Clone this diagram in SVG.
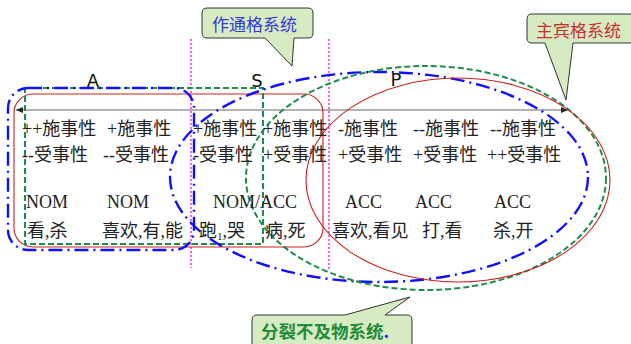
<svg xmlns="http://www.w3.org/2000/svg" width="631" height="344" viewBox="0 0 631 344">
<style>
.t{font-family:"Liberation Serif","Noto Sans CJK SC",serif;font-size:18px;fill:#222}
.lbl{font-family:"DejaVu Sans","Noto Sans",sans-serif;font-size:18px;fill:#111}
.blue{fill:none;stroke:#1010ff;stroke-width:2.4;stroke-dasharray:14 5 2 5}
.green{fill:none;stroke:#1e8c4a;stroke-width:2;stroke-dasharray:6 3}
.red{fill:none;stroke:#cc2020;stroke-width:1.1}
.pink{stroke:#ff33ff;stroke-width:1.6;stroke-dasharray:2 2}
.call{fill:#d7ebc3;stroke:#333;stroke-width:1}
</style>
<defs>
<marker id="ah" markerWidth="8" markerHeight="8" refX="7" refY="4" orient="auto-start-reverse" markerUnits="userSpaceOnUse">
<path d="M0,1 L7,4 L0,7 Z" fill="#222"/>
</marker>
</defs>
<rect width="631" height="344" fill="#fff"/>

<g id="connectors">
<line x1="16" y1="110" x2="568" y2="110" stroke="#666" stroke-width="1.2" marker-start="url(#ah)" marker-end="url(#ah)"/>
<line class="pink" x1="191" y1="39" x2="191" y2="268"/>
<line class="pink" x1="329" y1="39" x2="329" y2="270"/>
</g>

<g id="red-AS-rect"><rect class="red" x="14" y="94" width="309" height="153" rx="19"/></g>
<g id="green-A-rect"><rect class="green" x="25" y="88" width="238" height="156"/></g>
<g id="blue-ergative-system">
<rect class="blue" x="8" y="88" width="186" height="162" rx="20"/>
<ellipse class="blue" cx="379" cy="177" rx="209" ry="105"/>
</g>
<g id="green-split-system"><ellipse class="green" cx="426" cy="178" rx="180" ry="112"/></g>
<g id="red-accusative-system"><ellipse class="red" cx="458" cy="180" rx="152" ry="102"/></g>

<g id="labels">
<text class="lbl" x="93" y="87" text-anchor="middle">A</text>
<text class="lbl" x="257" y="87" text-anchor="middle">S</text>
<text class="lbl" x="396" y="86" text-anchor="middle">P</text>
</g>

<g id="table">
<text class="t" x="22" y="135">++施事性</text>
<text class="t" x="107" y="135">+施事性</text>
<text class="t" x="193" y="135">+施事性</text>
<text class="t" x="263" y="135">+施事性</text>
<text class="t" x="338" y="135">-施事性</text>
<text class="t" x="413" y="135">--施事性</text>
<text class="t" x="490" y="135">--施事性</text>
<text class="t" x="22" y="161">--受事性</text>
<text class="t" x="103" y="161">--受事性</text>
<text class="t" x="193" y="161">-受事性</text>
<text class="t" x="263" y="161">+受事性</text>
<text class="t" x="338" y="161">+受事性</text>
<text class="t" x="413" y="161">+受事性</text>
<text class="t" x="487" y="161">++受事性</text>
<text class="t" x="26" y="208">NOM</text>
<text class="t" x="107" y="208">NOM</text>
<text class="t" x="213" y="208">NOM/ACC</text>
<text class="t" x="345" y="208">ACC</text>
<text class="t" x="415" y="208">ACC</text>
<text class="t" x="494" y="208">ACC</text>
<text class="t" x="27" y="237">看,杀</text>
<text class="t" x="102" y="237">喜欢,有,能</text>
<text class="t" x="199" y="237">跑<tspan font-size="11" dy="3">1</tspan><tspan dy="-3">,哭</tspan></text>
<text class="t" x="265" y="237">病,死</text>
<text class="t" x="332" y="237">喜欢,看见</text>
<text class="t" x="422" y="237">打,看</text>
<text class="t" x="493" y="237">杀,开</text>
</g>

<g id="callout-ergative">
<path class="call" d="M207,8 H308 Q313,8 313,13 V33 Q313,38 308,38 H294 L292,66 L265,38 H207 Q202,38 202,33 V13 Q202,8 207,8 Z"/>
<text x="212" y="31" font-family="'Noto Sans CJK SC',sans-serif" font-size="17" fill="#3535d8">作通格系统</text>
</g>
<g id="callout-accusative">
<path class="call" d="M532,14 H630 Q635,14 635,19 V38 Q635,43 630,43 H573 L566,100 L545,43 H532 Q527,43 527,38 V19 Q527,14 532,14 Z"/>
<text x="536" y="37" font-family="'Noto Sans CJK SC',serif" font-size="17" fill="#c83030">主宾格系统</text>
</g>
<g id="callout-split">
<path class="call" d="M257,315 H345 L410,297 L385,315 H407 Q412,315 412,320 V350 H252 V320 Q252,315 257,315 Z"/>
<text x="261" y="338" font-family="'Noto Sans CJK SC',sans-serif" font-size="17.5" font-weight="bold" fill="#1e8c3a">分裂不及物系统<tspan fill="#2a2aff">.</tspan></text>
</g>
</svg>
